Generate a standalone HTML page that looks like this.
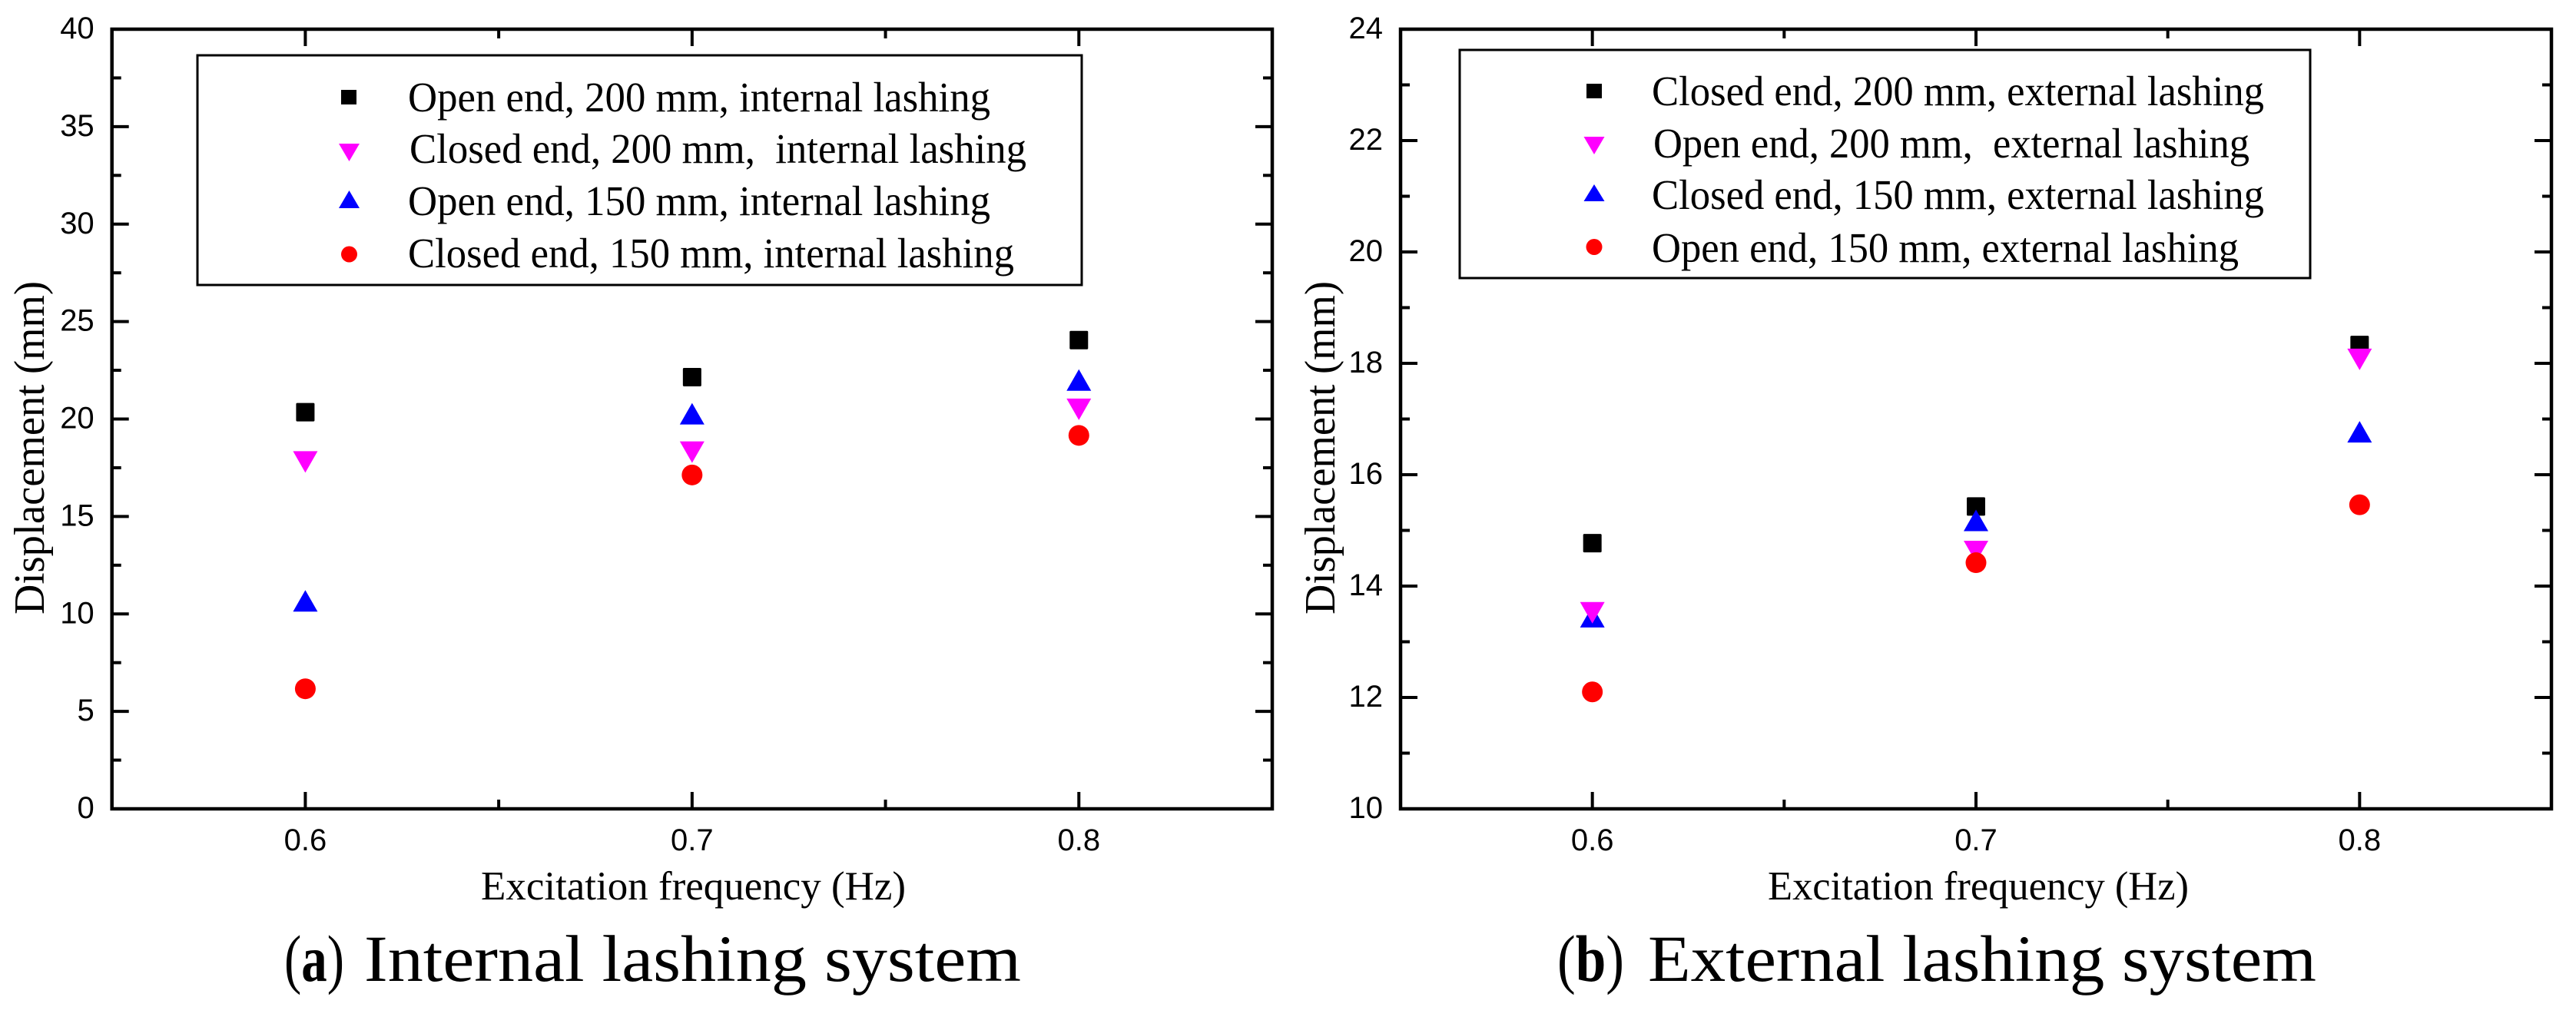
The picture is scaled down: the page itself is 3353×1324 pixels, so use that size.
<!DOCTYPE html>
<html lang="en">
<head>
<meta charset="utf-8">
<title>Displacement vs excitation frequency</title>
<style>
html,body{margin:0;padding:0;background:#fff;}
svg{display:block;}
.serif{font-family:"Liberation Serif",serif;fill:#000;}
.sans{font-family:"Liberation Sans",sans-serif;fill:#000;}
.leg{font-size:55px;}
.ax{font-size:53px;}
.yt{font-size:56px;}
.cap{font-size:86px;}
.tick{font-size:40px;}
</style>
</head>
<body>
<svg id="fig" xmlns="http://www.w3.org/2000/svg" width="3353" height="1324" viewBox="0 0 3353 1324">
  <rect x="0" y="0" width="3353" height="1324" fill="#fff"/>
  <g id="panelA"></g>
  <g id="panelB"></g>

  <!-- Legend A -->
  <g>
    <rect x="257" y="72" width="1151" height="299" fill="#fff" stroke="#000" stroke-width="3"/>
    <rect x="444" y="117" width="20" height="19" fill="#000"/>
    <polygon points="441,187 468,187 454.500,210" fill="#f0f"/>
    <polygon points="441,271 468,271 454.500,248" fill="#00f"/>
    <circle cx="454.500" cy="331" r="10.500" fill="#f00"/>
    <text class="serif leg" x="531" y="145" textLength="758" lengthAdjust="spacingAndGlyphs">Open end, 200 mm, internal lashing</text>
    <text class="serif leg" x="533" y="212" textLength="803" lengthAdjust="spacingAndGlyphs" xml:space="preserve">Closed end, 200 mm,  internal lashing</text>
    <text class="serif leg" x="531" y="280" textLength="758" lengthAdjust="spacingAndGlyphs">Open end, 150 mm, internal lashing</text>
    <text class="serif leg" x="531" y="348" textLength="789" lengthAdjust="spacingAndGlyphs">Closed end, 150 mm, internal lashing</text>
  </g>

  <!-- Legend B -->
  <g>
    <rect x="1900" y="65" width="1107" height="297" fill="#fff" stroke="#000" stroke-width="3"/>
    <rect x="2065" y="109" width="20" height="19" fill="#000"/>
    <polygon points="2061.500,178 2088.500,178 2075,201" fill="#f0f"/>
    <polygon points="2061.500,262 2088.500,262 2075,240" fill="#00f"/>
    <circle cx="2075" cy="321.500" r="10.500" fill="#f00"/>
    <text class="serif leg" x="2150" y="137" textLength="797" lengthAdjust="spacingAndGlyphs">Closed end, 200 mm, external lashing</text>
    <text class="serif leg" x="2152" y="205" textLength="776" lengthAdjust="spacingAndGlyphs" xml:space="preserve">Open end, 200 mm,  external lashing</text>
    <text class="serif leg" x="2150" y="272" textLength="797" lengthAdjust="spacingAndGlyphs">Closed end, 150 mm, external lashing</text>
    <text class="serif leg" x="2150" y="341" textLength="764" lengthAdjust="spacingAndGlyphs">Open end, 150 mm, external lashing</text>
  </g>

  <!-- Axis titles -->
  <text class="serif ax" x="626" y="1171" textLength="553" lengthAdjust="spacingAndGlyphs">Excitation frequency (Hz)</text>
  <text class="serif yt" transform="translate(57,800) rotate(-90)" x="0" y="0" textLength="434" lengthAdjust="spacingAndGlyphs">Displacement (mm)</text>
  <text class="serif ax" x="2301" y="1171" textLength="548" lengthAdjust="spacingAndGlyphs">Excitation frequency (Hz)</text>
  <text class="serif yt" transform="translate(1737,800) rotate(-90)" x="0" y="0" textLength="434" lengthAdjust="spacingAndGlyphs">Displacement (mm)</text>

  <!-- Captions -->
  <g>
    <text class="serif cap" x="370" y="1277" textLength="78" lengthAdjust="spacingAndGlyphs">(<tspan font-weight="bold">a</tspan>)</text>
    <text class="serif cap" x="474" y="1277" textLength="855" lengthAdjust="spacingAndGlyphs">Internal lashing system</text>
  </g>
  <g>
    <text class="serif cap" x="2027" y="1277" textLength="87" lengthAdjust="spacingAndGlyphs">(<tspan font-weight="bold">b</tspan>)</text>
    <text class="serif cap" x="2145" y="1277" textLength="870" lengthAdjust="spacingAndGlyphs">External lashing system</text>
  </g>
</svg>

<script>
// Shared x axis
var frequencies = [0.6, 0.7, 0.8];
var xTickLabels = ["0.6", "0.7", "0.8"];
var xMinorTicks = [0.65, 0.75];

// Panel (a): internal lashing
var internalYTicks = [0, 5, 10, 15, 20, 25, 30, 35, 40];
var internalOpen200 = [20.35, 22.15, 24.05];
var internalClosed200 = [17.8, 18.3, 20.5];
var internalOpen150 = [10.67, 20.27, 22.0];
var internalClosed150 = [6.16, 17.13, 19.16];

// Panel (b): external lashing
var externalYTicks = [10, 12, 14, 16, 18, 20, 22, 24];
var externalClosed200 = [14.77, 15.43, 18.33];
var externalOpen200 = [13.52, 14.62, 18.07];
var externalClosed150 = [13.45, 15.18, 16.77];
var externalOpen150 = [12.1, 14.42, 15.46];

var SVGNS = 'http://www.w3.org/2000/svg';

function el(parent, tag, attrs) {
  var e = document.createElementNS(SVGNS, tag);
  for (var k in attrs) { e.setAttribute(k, attrs[k]); }
  parent.appendChild(e);
  return e;
}

function drawChart(g, box, xDomain, yTicks, series) {
  var yMin = yTicks[0], yMax = yTicks[yTicks.length - 1];
  function xs(v) { return box.l + (v - xDomain[0]) / (xDomain[1] - xDomain[0]) * (box.r - box.l); }
  function ys(v) { return box.b - (v - yMin) / (yMax - yMin) * (box.b - box.t); }

  var MAJOR = 22, MINOR = 12, TW = 4;

  var frame = el(g, 'rect', {x: box.l, y: box.t, width: box.r - box.l, height: box.b - box.t, fill: 'none', stroke: '#000', 'stroke-width': 4.5});
  
  

  // Y ticks
  yTicks.forEach(function (v, i) {
    var y = ys(v);
    var left = el(g, 'line', {x1: box.l, x2: box.l + MAJOR, y1: y, y2: y, stroke: '#000', 'stroke-width': TW});
    
    
    var right = el(g, 'line', {x1: box.r, x2: box.r - MAJOR, y1: y, y2: y, stroke: '#000', 'stroke-width': TW});
    
    
    var label = el(g, 'text', {x: box.l - 23, y: y + 12, 'text-anchor': 'end', 'class': 'sans tick'});
    label.textContent = String(v);
    
    
    if (i < yTicks.length - 1) {
      var mid = ys((v + yTicks[i + 1]) / 2);
      var minorL = el(g, 'line', {x1: box.l, x2: box.l + MINOR, y1: mid, y2: mid, stroke: '#000', 'stroke-width': TW});
      
      
      var minorR = el(g, 'line', {x1: box.r, x2: box.r - MINOR, y1: mid, y2: mid, stroke: '#000', 'stroke-width': TW});
      
      
    }
  });

  // X ticks
  frequencies.forEach(function (v, i) {
    var x = xs(v);
    var bottom = el(g, 'line', {x1: x, x2: x, y1: box.b, y2: box.b - MAJOR, stroke: '#000', 'stroke-width': TW});
    
    
    var top = el(g, 'line', {x1: x, x2: x, y1: box.t, y2: box.t + MAJOR, stroke: '#000', 'stroke-width': TW});
    
    
    var label = el(g, 'text', {x: x, y: box.b + 54, 'text-anchor': 'middle', 'class': 'sans tick'});
    label.textContent = xTickLabels[i];
    
    
  });
  xMinorTicks.forEach(function (v) {
    var x = xs(v);
    var bottom = el(g, 'line', {x1: x, x2: x, y1: box.b, y2: box.b - MINOR, stroke: '#000', 'stroke-width': TW});
    
    
    var top = el(g, 'line', {x1: x, x2: x, y1: box.t, y2: box.t + MINOR, stroke: '#000', 'stroke-width': TW});
    
    
  });

  // Points
  series.forEach(function (s) {
    s.values.forEach(function (v, i) {
      var cx = xs(frequencies[i]), cy = ys(v), m;
      if (s.shape === 'square') {
        m = el(g, 'rect', {x: cx - 12, y: cy - 12, width: 24, height: 24, rx: 1.5, fill: s.color});
      } else if (s.shape === 'down') {
        m = el(g, 'polygon', {points: (cx - 16) + ',' + (cy - 14) + ' ' + (cx + 16) + ',' + (cy - 14) + ' ' + cx + ',' + (cy + 14), fill: s.color});
      } else if (s.shape === 'up') {
        m = el(g, 'polygon', {points: (cx - 16) + ',' + (cy + 14) + ' ' + (cx + 16) + ',' + (cy + 14) + ' ' + cx + ',' + (cy - 14), fill: s.color});
      } else {
        m = el(g, 'circle', {cx: cx, cy: cy, r: 13.5, fill: s.color});
      }
      
      
    });
  });
}

drawChart(document.getElementById('panelA'), {l: 145.7, r: 1656, t: 38, b: 1053}, [0.55, 0.85], internalYTicks, [
  {name: 'open-200', values: internalOpen200, color: '#000', shape: 'square'},
  {name: 'closed-200', values: internalClosed200, color: '#f0f', shape: 'down'},
  {name: 'open-150', values: internalOpen150, color: '#00f', shape: 'up'},
  {name: 'closed-150', values: internalClosed150, color: '#f00', shape: 'circle'}
]);

drawChart(document.getElementById('panelB'), {l: 1823, r: 3321, t: 38, b: 1053}, [0.55, 0.85], externalYTicks, [
  {name: 'closed-200', values: externalClosed200, color: '#000', shape: 'square'},
  {name: 'closed-150', values: externalClosed150, color: '#00f', shape: 'up'},
  {name: 'open-200', values: externalOpen200, color: '#f0f', shape: 'down'},
  {name: 'open-150', values: externalOpen150, color: '#f00', shape: 'circle'}
]);
</script>
</body>
</html>
